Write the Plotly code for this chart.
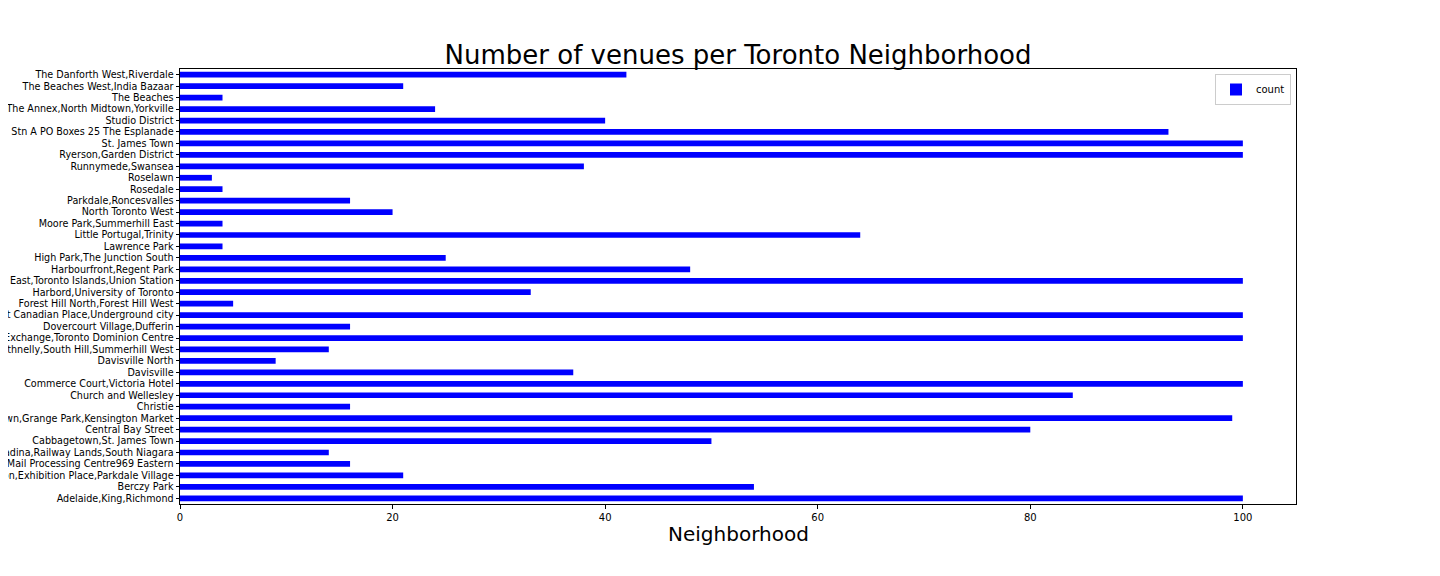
import plotly.graph_objects as go

neighborhoods = [
    "Adelaide,King,Richmond",
    "Berczy Park",
    "Brockton,Exhibition Place,Parkdale Village",
    "Business Reply Mail Processing Centre969 Eastern",
    "CN Tower,Bathurst Quay,Island airport,Harbourfront West,King and Spadina,Railway Lands,South Niagara",
    "Cabbagetown,St. James Town",
    "Central Bay Street",
    "Chinatown,Grange Park,Kensington Market",
    "Christie",
    "Church and Wellesley",
    "Commerce Court,Victoria Hotel",
    "Davisville",
    "Davisville North",
    "Deer Park,Forest Hill SE,Rathnelly,South Hill,Summerhill West",
    "Design Exchange,Toronto Dominion Centre",
    "Dovercourt Village,Dufferin",
    "First Canadian Place,Underground city",
    "Forest Hill North,Forest Hill West",
    "Harbord,University of Toronto",
    "Harbourfront East,Toronto Islands,Union Station",
    "Harbourfront,Regent Park",
    "High Park,The Junction South",
    "Lawrence Park",
    "Little Portugal,Trinity",
    "Moore Park,Summerhill East",
    "North Toronto West",
    "Parkdale,Roncesvalles",
    "Rosedale",
    "Roselawn",
    "Runnymede,Swansea",
    "Ryerson,Garden District",
    "St. James Town",
    "Stn A PO Boxes 25 The Esplanade",
    "Studio District",
    "The Annex,North Midtown,Yorkville",
    "The Beaches",
    "The Beaches West,India Bazaar",
    "The Danforth West,Riverdale",
]

counts = [100, 54, 21, 16, 14, 50, 80, 99, 16, 84, 100, 37, 9, 14, 100, 16, 100, 5,
          33, 100, 48, 25, 4, 64, 4, 20, 16, 4, 3, 38, 100, 100, 93, 40, 24, 4, 21, 42]

x_ticks = [0, 20, 40, 60, 80, 100]

fig = go.Figure()
fig.add_trace(go.Bar(
    x=counts, y=neighborhoods, orientation="h", name="count",
    marker=dict(color="#0000ff", line=dict(width=0)), width=0.5,
    showlegend=True,
))

font = "DejaVu Sans, sans-serif"
fig.update_layout(
    width=1432, height=568,
    margin=dict(l=172, r=144, t=61, b=72, autoexpand=False),
    paper_bgcolor="white", plot_bgcolor="white",
    font=dict(family=font, size=10, color="black"),
    title=dict(text="Number of venues per Toronto Neighborhood", x=0.5, xref="paper",
               y=1 - 47 / 568, yref="container", xanchor="center", yanchor="middle",
               font=dict(size=26, family=font, color="black")),
    showlegend=True,
    legend=dict(x=0.9955, y=0.9885, xanchor="right", yanchor="top",
                bordercolor="#cccccc", borderwidth=1, bgcolor="white",
                font=dict(size=10, family=font), itemwidth=30,
                tracegroupgap=0),
    annotations=[dict(text="Neighborhood", x=0.5, y=-30 / 435, xref="paper", yref="paper",
                      xanchor="center", yanchor="middle", showarrow=False,
                      font=dict(size=20, family=font, color="black"))],
)
fig.update_xaxes(
    range=[0, 105], tickvals=x_ticks, ticks="outside", ticklen=3.5, tickwidth=1,
    tickcolor="black", showgrid=False, zeroline=False, showline=True, linecolor="black",
    linewidth=1, mirror=True, automargin=False,
)
fig.update_yaxes(
    type="category", categoryorder="array", categoryarray=neighborhoods,
    tickmode="array", tickvals=neighborhoods, ticktext=neighborhoods,
    tickfont=dict(size=9.6, family=font, color="black"),
    range=[-0.5, len(neighborhoods) - 0.5], ticks="outside", ticklen=3.5, tickwidth=1,
    tickcolor="black", showgrid=False, zeroline=False, showline=True, linecolor="black",
    linewidth=1, mirror=True, automargin=False,
)

fig.write_html("out.html")
